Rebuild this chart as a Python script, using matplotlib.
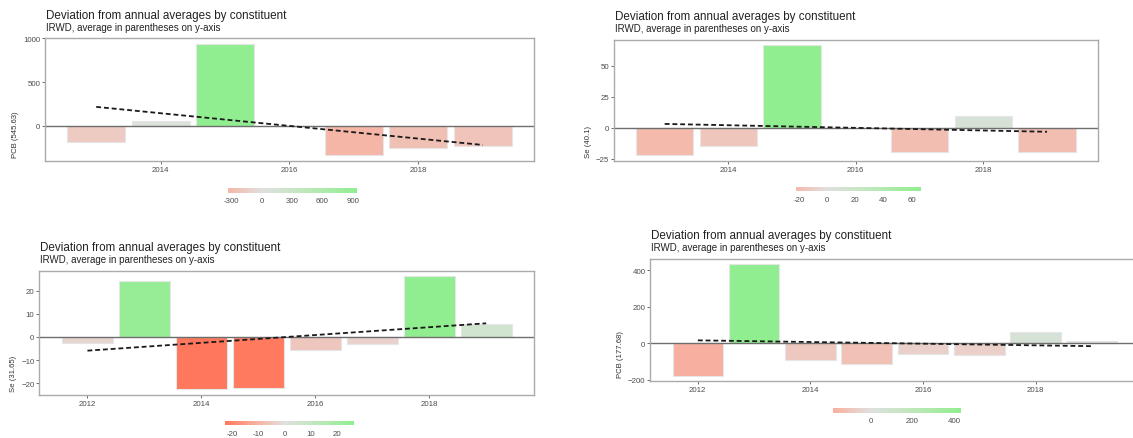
import numpy as np
import matplotlib
matplotlib.use("Agg")
import matplotlib.pyplot as plt
from matplotlib.colors import ListedColormap, to_rgb

plt.rcParams["font.family"] = ["Liberation Sans", "DejaVu Sans"]

W, H = 1133, 439

title_text = "Deviation from annual averages by constituent"
subtitle_text = "IRWD, average in parentheses on y-axis"

# PCB, first record (no 2016 sample)
pcb_a_years = [2013, 2014, 2015, 2017, 2018, 2019]
pcb_a_dev = [-178, 53, 938, -336, -253, -224]
pcb_a_label = "PCB (545.63)"
pcb_a_breaks = [-300, 0, 300, 600, 900]

# Se, first record (no 2016 sample)
se_a_years = [2013, 2014, 2015, 2017, 2018, 2019]
se_a_dev = [-22, -15, 66.5, -19.5, 9.5, -19.5]
se_a_label = "Se (40.1)"
se_a_breaks = [-20, 0, 20, 40, 60]

# Se, second record
se_b_years = [2012, 2013, 2014, 2015, 2016, 2017, 2018, 2019]
se_b_dev = [-2.6, 24.2, -22.5, -22.0, -5.8, -3.1, 26.2, 5.6]
se_b_label = "Se (31.65)"
se_b_breaks = [-20, -10, 0, 10, 20]

# PCB, second record
pcb_b_years = [2012, 2013, 2014, 2015, 2016, 2017, 2018, 2019]
pcb_b_dev = [-178, 433, -93, -115, -58, -62, 62, 11]
pcb_b_label = "PCB (177.68)"
pcb_b_breaks = [0, 200, 400]

y_breaks = {
    "pcb_a": [0, 500, 1000],
    "se_a": [-25, 0, 25, 50],
    "se_b": [-20, -10, 0, 10, 20],
    "pcb_b": [-200, 0, 200, 400],
}
x_breaks_a = [2014, 2016, 2018]
x_breaks_b = [2012, 2014, 2016, 2018]

low_col, mid_col, high_col = "#ff6347", "#e0e0e0", "#90ee90"


# --- CIE Lab interpolation for the diverging fill scale ---
_M = np.array([[0.4124564, 0.3575761, 0.1804375],
               [0.2126729, 0.7151522, 0.0721750],
               [0.0193339, 0.1191920, 0.9503041]])
_WHITE = np.array([0.95047, 1.0, 1.08883])


def rgb_to_lab(rgb):
    c = np.asarray(rgb, float)
    lin = np.where(c <= 0.04045, c / 12.92, ((c + 0.055) / 1.055) ** 2.4)
    xyz = _M @ lin / _WHITE
    f = np.where(xyz > (6 / 29) ** 3, np.cbrt(xyz),
                 xyz / (3 * (6 / 29) ** 2) + 4 / 29)
    return np.array([116 * f[1] - 16, 500 * (f[0] - f[1]),
                     200 * (f[1] - f[2])])


def lab_to_rgb(lab):
    L, a, b = lab
    fy = (L + 16) / 116
    fx = fy + a / 500
    fz = fy - b / 200
    f = np.array([fx, fy, fz])
    xyz = np.where(f > 6 / 29, f ** 3, 3 * (6 / 29) ** 2 * (f - 4 / 29))
    lin = np.linalg.solve(_M, xyz * _WHITE)
    lin = np.clip(lin, 0, 1)
    c = np.where(lin <= 0.0031308, 12.92 * lin,
                 1.055 * lin ** (1 / 2.4) - 0.055)
    return np.clip(c, 0, 1)


_labs = [rgb_to_lab(to_rgb(c)) for c in (low_col, mid_col, high_col)]
_table = []
for t in np.linspace(0, 1, 512):
    if t <= 0.5:
        u = t / 0.5
        lab = _labs[0] * (1 - u) + _labs[1] * u
    else:
        u = (t - 0.5) / 0.5
        lab = _labs[1] * (1 - u) + _labs[2] * u
    _table.append(lab_to_rgb(lab))
fill_cmap = ListedColormap(np.array(_table), name="dev")

fig = plt.figure(figsize=(W / 100, H / 100), dpi=100)


def px_axes(l, t, r, b):
    return fig.add_axes([l / W, 1 - b / H, (r - l) / W, (b - t) / H])


def panel(years, dev, ylabel, ybreaks, xbreaks, cbreaks, axbox, cbbox):
    years = np.asarray(years, float)
    dev = np.asarray(dev, float)
    l, t, r, b = axbox
    ax = px_axes(l, t, r, b)

    m = np.max(np.abs(dev))
    colors = fill_cmap(0.5 + dev / (2 * m))
    ax.bar(years, dev, width=0.9, color=colors, edgecolor="#e6e6e6",
           linewidth=0.8, zorder=1)
    ax.axhline(0, color="#6e6e6e", lw=1.0, zorder=2)

    k, c = np.polyfit(years, dev, 1)
    xs = np.array([years.min(), years.max()])
    ax.plot(xs, k * xs + c, color="#1a1a1a", lw=1.3,
            ls=(0, (2.7, 1.6)), zorder=3)

    # 5% expansion of the data range on both axes
    x0, x1 = years.min() - 0.45, years.max() + 0.45
    dx = 0.05 * (x1 - x0)
    ax.set_xlim(x0 - dx, x1 + dx)
    y0, y1 = min(dev.min(), 0), max(dev.max(), 0)
    dy = 0.05 * (y1 - y0)
    ax.set_ylim(y0 - dy, y1 + dy)

    ax.set_xticks(xbreaks)
    ax.set_yticks(ybreaks)
    ax.tick_params(length=2, width=0.6, color="#555555", labelsize=5.7,
                   labelcolor="#4d4d4d", pad=1.5)
    for s in ax.spines.values():
        s.set_color("#ababab")
        s.set_linewidth(1.0)
    ax.set_ylabel(ylabel, fontsize=5.6, color="#333333", labelpad=3,
                  y=4 / (b - t), ha="left")

    fig.text((l + 1) / W, 1 - (t - 20.5) / H, title_text, fontsize=8.4,
             color="#222222", va="baseline", ha="left")
    fig.text((l + 1) / W, 1 - (t - 8.3) / H, subtitle_text, fontsize=7,
             color="#222222", va="baseline", ha="left")

    # colour bar legend below the panel
    cl, ct, cr, cb = cbbox
    cax = px_axes(cl, ct, cr, cb)
    vmin, vmax = dev.min(), dev.max()
    grad = np.linspace(vmin, vmax, 256)
    cax.imshow(fill_cmap(0.5 + grad / (2 * m))[None, :, :], aspect="auto",
               extent=(vmin, vmax, 0, 1), interpolation="bilinear")
    cax.set_xlim(vmin, vmax)
    cax.set_yticks([])
    cax.set_xticks(cbreaks)
    cax.set_xticklabels([str(v) for v in cbreaks])
    cax.tick_params(length=0, labelsize=5.7, labelcolor="#4d4d4d", pad=3)
    for s in cax.spines.values():
        s.set_visible(False)
    return ax


panel(pcb_a_years, pcb_a_dev, pcb_a_label, y_breaks["pcb_a"], x_breaks_a,
      pcb_a_breaks, (45, 39, 534, 162), (228, 189.3, 356.7, 193.8))
panel(se_a_years, se_a_dev, se_a_label, y_breaks["se_a"], x_breaks_a,
      se_a_breaks, (614, 40.7, 1097.7, 161.7), (796, 188, 921, 192.5))
panel(se_b_years, se_b_dev, se_b_label, y_breaks["se_b"], x_breaks_b,
      se_b_breaks, (39.3, 271.7, 534.3, 395.7), (225.3, 422, 353.3, 426.5))
panel(pcb_b_years, pcb_b_dev, pcb_b_label, y_breaks["pcb_b"], x_breaks_b,
      pcb_b_breaks, (650.3, 259.7, 1139.4, 382.3), (833.3, 409.3, 961, 413.8))

fig.savefig("out.png", dpi=100, facecolor="white")
